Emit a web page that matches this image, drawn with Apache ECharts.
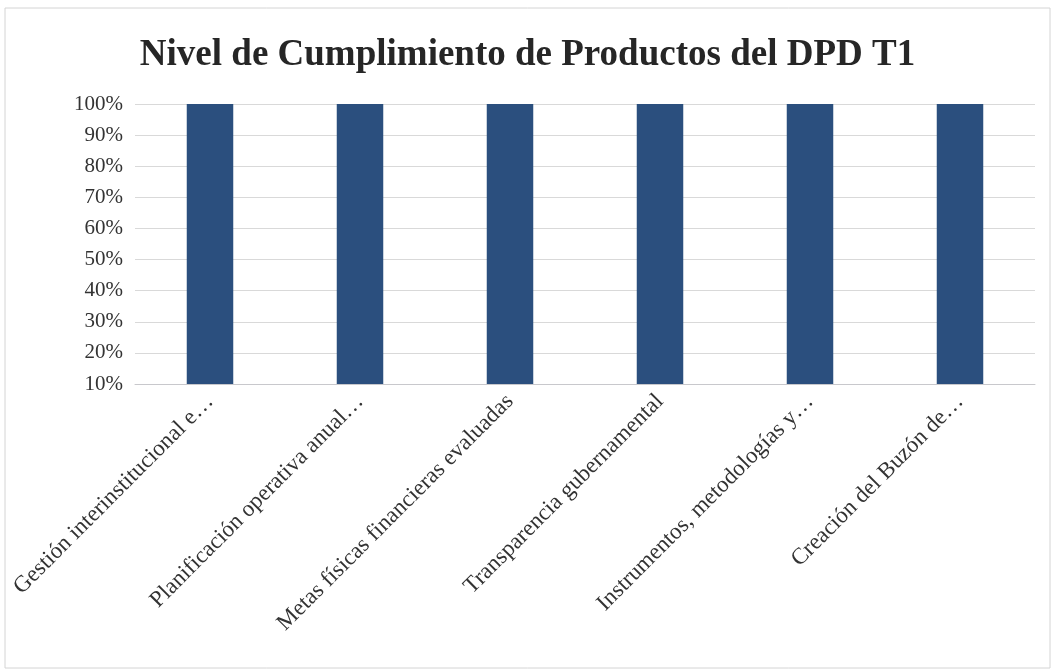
<!DOCTYPE html>
<html><head><meta charset="utf-8">
<script src="https://cdn.jsdelivr.net/npm/echarts@6/dist/echarts.min.js"></script>
<style>html,body{margin:0;padding:0;background:#fff}#c{width:1055px;height:672px}</style>
</head><body><div id="c"></div>
<script>
const categories = ["Gestión interinstitucional e…","Planificación operativa anual…","Metas físicas financieras evaluadas","Transparencia gubernamental","Instrumentos, metodologías y…","Creación del Buzón de…"];
const values = [100,100,100,100,100,100];
const chart = echarts.init(document.getElementById('c'));
chart.setOption({
  backgroundColor:'#fff',
  animation:false,
  graphic:[{type:'rect',shape:{x:5,y:8,width:1045,height:660},style:{fill:'none',stroke:'#d4d4d4',lineWidth:1},silent:true}],
  title:{text:'Nivel de Cumplimiento de Productos del DPD T1',left:'center',top:32,
    textStyle:{fontFamily:'Liberation Serif',fontWeight:'bold',fontSize:37,color:'#262626'}},
  grid:{left:135,right:20,top:104,bottom:288,containLabel:false},
  xAxis:{type:'category',data:categories,
    axisLine:{lineStyle:{color:'#c8c8cc'}},axisTick:{show:false},
    axisLabel:{rotate:45,interval:0,margin:14,fontFamily:'Liberation Serif',fontSize:23,color:'#333'}},
  yAxis:{type:'value',min:10,max:100,interval:10,
    axisLine:{show:false},axisTick:{show:false},
    splitLine:{lineStyle:{color:'#d9d9d9'}},
    axisLabel:{formatter:'{value}%',fontFamily:'Liberation Serif',fontSize:21,color:'#333',margin:12}},
  series:[{type:'bar',data:values,barWidth:'31%',itemStyle:{color:'#2B4F7E'}}]
});
</script></body></html>
